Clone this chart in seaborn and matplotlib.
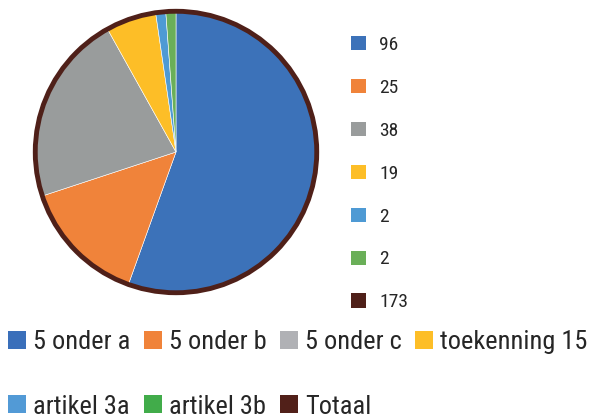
import matplotlib
matplotlib.use("Agg")
import matplotlib.pyplot as plt
import matplotlib.patches as mpatches
import seaborn as sns

# categories (bottom legend) and the numbers shown in the right legend
categories = ["5 onder a", "5 onder b", "5 onder c", "toekenning 15",
              "artikel 3a", "artikel 3b", "Totaal"]
value_labels = ["96", "25", "38", "19", "2", "2", "173"]
# wedge sizes as drawn in the pie
wedge_values = [96, 25, 38, 10, 2, 2]

pie_colors = ["#3C72B9", "#F0833A", "#999C9C", "#FDBE27", "#4E9AD4", "#6AAF58", "#4F2019"]
legend_colors = ["#3A6FBA", "#F0833A", "#B0B1B5", "#FDBE27", "#529AD6", "#41AC4A", "#512019"]

sns.set_style("white")
plt.rcParams["font.family"] = ["Roboto Condensed", "Archivo Narrow", "DejaVu Sans"]
text_color = "#262626"

fig = plt.figure(figsize=(5.94, 4.18), dpi=100)
ax = fig.add_axes([31 / 594, 1 - 297 / 418, 290 / 594, 290 / 418])

ax.pie(wedge_values, colors=pie_colors[:6], startangle=90, counterclock=False,
       radius=1, wedgeprops=dict(edgecolor="white", linewidth=0.4))
# Totaal drawn as the dark outline around the whole pie
ax.add_patch(mpatches.Circle((0, 0), 0.99, fill=False, edgecolor=pie_colors[6], linewidth=3.5))
ax.set_xlim(-1.02, 1.02)
ax.set_ylim(-1.02, 1.02)
ax.set_aspect("equal")
ax.axis("off")

# right legend: value labels
right_handles = [mpatches.Patch(facecolor=c, edgecolor="none") for c in pie_colors]
fig.legend(right_handles, value_labels, loc="upper left",
           bbox_to_anchor=(351 / 594, 1 - 36 / 418), frameon=False,
           fontsize=14, labelcolor=text_color, handlelength=0.75, handleheight=0.75,
           handletextpad=0.7, labelspacing=1.28, borderaxespad=0, borderpad=0)

# bottom legend: categories, reordered so the 4 columns fill row by row
order = [0, 4, 1, 5, 2, 6, 3]
bottom_handles = [mpatches.Patch(facecolor=legend_colors[i], edgecolor="none") for i in order]
fig.legend(bottom_handles, [categories[i] for i in order], loc="upper left", ncol=4,
           bbox_to_anchor=(8 / 594, 1 - 330 / 418), frameon=False,
           fontsize=19, labelcolor=text_color, handlelength=0.68, handleheight=0.68,
           handletextpad=0.27, columnspacing=0.5, labelspacing=1.54,
           borderaxespad=0, borderpad=0)

fig.savefig("out.png", dpi=100, facecolor="white")
